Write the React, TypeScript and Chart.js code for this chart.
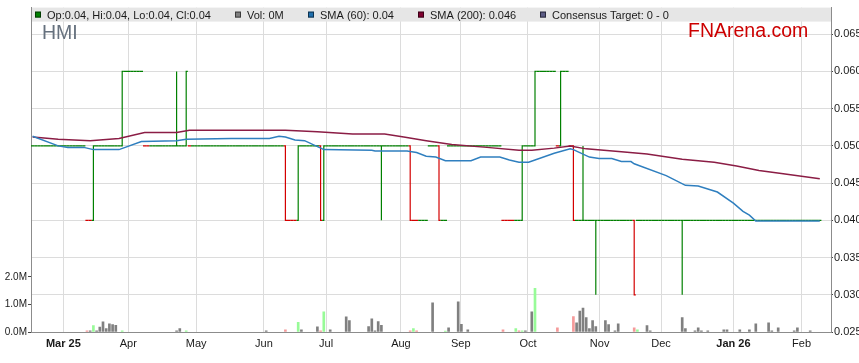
import React, { useEffect, useRef } from "react";
import { Chart, registerables } from "chart.js";

Chart.register(...registerables);

const FONT = "'Liberation Sans', Arial, Helvetica, sans-serif";

// ---- axis ticks ----
const monthTickDays = [9.6, 29.9, 51.1, 72.3, 91.7, 115.1, 133.8, 154.8, 177.2, 196.4, 219.0, 240.3];
const monthLabels = ["Mar 25", "Apr", "May", "Jun", "Jul", "Aug", "Sep", "Oct", "Nov", "Dec", "Jan 26", "Feb"];
const priceTicks = [0.025, 0.03, 0.035, 0.04, 0.045, 0.05, 0.055, 0.06, 0.065];
const volumeTicks = [0, 1, 2];
const PRICE_MIN = 0.025;
const PRICE_MAX = 0.068576;
const VOL_MAX = 11.75;

// ---- daily closes (cents), trading day index 0..246 ----
const closeCents = [
  5, 5, 5, 5, 5, 5, 5, 5, 5, 5, // 0
  5, 5, 5, 5, 5, 5, 5, 4, 4, 5, // 10
  5, 5, 5, 5, 5, 5, 5, 5, 6, 6, // 20
  6, 6, 6, 6, 6, 5, 5, 5, 5, 5, // 30
  5, 5, 5, 5, 5, 5, 5, 5, 6, 5, // 40
  5, 5, 5, 5, 5, 5, 5, 5, 5, 5, // 50
  5, 5, 5, 5, 5, 5, 5, 5, 5, 5, // 60
  5, 5, 5, 5, 5, 5, 5, 5, 5, 4, // 70
  4, 4, 4, 5, 5, 5, 5, 5, 5, 5, // 80
  4, 5, 5, 5, 5, 5, 5, 5, 5, 5, // 90
  5, 5, 5, 5, 5, 5, 5, 5, 5, 5, // 100
  5, 5, 5, 5, 5, 5, 5, 5, 4, 4, // 110
  4, 4, 4, 4, 5, 5, 5, 4, 4, 4, // 120
  5, 5, 5, 5, 5, 5, 5, 5, 5, 5, // 130
  5, 5, 5, 5, 5, 5, 5, 4, 4, 4, // 140
  4, 4, 4, 5, 5, 5, 5, 6, 6, 6, // 150
  6, 6, 6, 6, 5, 6, 6, 6, 5, 4, // 160
  4, 4, 4, 4, 4, 4, 4, 4, 4, 4, // 170
  4, 4, 4, 4, 4, 4, 4, 4, 3, 4, // 180
  4, 4, 4, 4, 4, 4, 4, 4, 4, 4, // 190
  4, 4, 4, 4, 4, 4, 4, 4, 4, 4, // 200
  4, 4, 4, 4, 4, 4, 4, 4, 4, 4, // 210
  4, 4, 4, 4, 4, 4, 4, 4, 4, 4, // 220
  4, 4, 4, 4, 4, 4, 4, 4, 4, 4, // 230
  4, 4, 4, 4, 4, 4, 4, // 240
];

// days with an intraday range (cents)
const barDays = [19, 28, 45, 48, 79, 83, 90, 91, 109, 118, 127, 153, 157, 165, 169, 172, 176, 188, 203];
const barOpen = [4, 5, 5, 5, 5, 4, 5, 4, 5, 5, 5, 4, 5, 5, 5, 4, 4, 4, 4];
const barHigh = [5, 6, 6, 6, 5, 5, 5, 5, 5, 5, 5, 5, 6, 6, 5, 5, 4, 4, 4];
const barLow = [4, 5, 5, 5, 4, 4, 4, 4, 4, 4, 4, 4, 5, 5, 4, 4, 3, 3, 3];
const redDays = [17, 18, 35, 36, 49, 79, 80, 81, 82, 90, 118, 119, 120, 127, 147, 148, 149, 150, 164, 168, 169, 188];

// volume (millions)
const volDays = [17, 18, 19, 20, 21, 22, 23, 24, 25, 26, 28, 45, 46, 48, 73, 79, 83, 84, 89, 90, 91, 93, 98, 99, 105, 106, 107, 108, 109, 118, 119, 120, 125, 129, 130, 133, 134, 136, 147, 151, 152, 153, 154, 156, 157, 164, 169, 170, 171, 172, 173, 174, 175, 176, 179, 180, 182, 183, 188, 189, 192, 193, 203, 204, 207, 208, 209, 211, 216, 217, 221, 224, 226, 230, 231, 233, 238, 239, 243];
const volMillions = [0.04, 0.04, 0.23, 0.04, 0.18, 0.37, 0.12, 0.3, 0.27, 0.24, 0.04, 0.04, 0.12, 0.04, 0.04, 0.08, 0.35, 0.08, 0.19, 0.04, 0.73, 0.08, 0.55, 0.41, 0.2, 0.48, 0.04, 0.38, 0.24, 0.04, 0.12, 0.04, 1.06, 0.03, 0.15, 1.09, 0.28, 0.08, 0.08, 0.12, 0.04, 0.04, 0.04, 0.73, 1.58, 0.15, 0.56, 0.33, 0.76, 0.87, 0.52, 0.12, 0.41, 0.2, 0.41, 0.27, 0.04, 0.3, 0.15, 0.08, 0.23, 0.04, 0.52, 0.12, 0.04, 0.15, 0.04, 0.04, 0.08, 0.08, 0.08, 0.08, 0.3, 0.33, 0.04, 0.15, 0.04, 0.15, 0.04];
const volDirs = ["d", "n", "u", "n", "n", "n", "n", "n", "n", "n", "u", "n", "n", "u", "n", "d", "u", "n", "n", "d", "u", "n", "n", "n", "n", "n", "n", "n", "n", "d", "u", "d", "n", "u", "n", "n", "n", "n", "d", "u", "d", "u", "n", "n", "u", "d", "d", "n", "n", "n", "n", "n", "n", "n", "n", "n", "n", "n", "d", "u", "n", "n", "n", "n", "n", "n", "n", "n", "n", "n", "n", "n", "n", "n", "n", "n", "n", "n", "n"];

// moving averages
const sma60Days = [0, 8, 11, 16, 19, 27, 34, 45, 48, 62, 74, 77, 79, 82, 85, 91, 106, 107, 117, 120, 123, 126, 129, 137, 140, 146, 149, 152, 155, 163, 168, 169, 174, 177, 181, 184, 187, 188, 198, 204, 208, 214, 219, 222, 224, 226, 246];
const sma60Vals = [0.0513, 0.05, 0.0498, 0.0498, 0.0495, 0.0495, 0.0506, 0.0507, 0.0509, 0.051, 0.051, 0.0513, 0.0512, 0.0508, 0.0507, 0.0495, 0.0494, 0.0493, 0.0493, 0.0491, 0.0486, 0.0485, 0.048, 0.048, 0.0485, 0.0485, 0.0481, 0.0478, 0.0478, 0.049, 0.0496, 0.0495, 0.0485, 0.0483, 0.0483, 0.0479, 0.0479, 0.0476, 0.046, 0.0447, 0.0446, 0.0438, 0.0423, 0.0412, 0.0407, 0.0399, 0.0399];
const sma200Days = [0, 8, 18, 27, 35, 45, 49, 79, 89, 100, 110, 116, 123, 131, 142, 152, 156, 163, 168, 173, 184, 192, 203, 213, 220, 227, 234, 246];
const sma200Vals = [0.0512, 0.0509, 0.0507, 0.051, 0.0518, 0.0518, 0.0521, 0.0521, 0.0519, 0.0516, 0.0516, 0.0512, 0.0507, 0.0502, 0.0498, 0.0494, 0.0494, 0.0497, 0.05, 0.0496, 0.0492, 0.0489, 0.0482, 0.0478, 0.0473, 0.0467, 0.0463, 0.0456];

// legend
const legendTexts = ["Op:0.04, Hi:0.04, Lo:0.04, Cl:0.04", "Vol: 0M", "SMA (60): 0.04", "SMA (200): 0.046", "Consensus Target: 0 - 0"];
const legendColors = ["#008000", "#808080", "#1f6fad", "#800030", "#5c5c85"];
const tickerName = "HMI";
const brandName = "FNArena.com";

const UP = "#008000";
const DOWN = "#d40000";
const VOL_COLORS: Record<string, string> = { u: "#98fb98", d: "#f59a9a", n: "#808080" };

const overlayPlugin = {
  id: "overlay",
  afterDraw(chart: any) {
    const { ctx, chartArea: a } = chart;
    ctx.save();
    ctx.fillStyle = "#e6e6e6";
    ctx.fillRect(a.left + 1, a.top, a.right - a.left - 1, 14);
    const offsets = [4, 204, 277, 387, 509];
    ctx.font = `11px ${FONT}`;
    ctx.textBaseline = "alphabetic";
    legendTexts.forEach((t, k) => {
      const x = a.left + offsets[k];
      ctx.fillStyle = legendColors[k];
      ctx.fillRect(x, a.top + 4, 6, 6);
      ctx.strokeStyle = "rgba(0,0,0,0.55)";
      ctx.lineWidth = 1;
      ctx.strokeRect(x + 0.5, a.top + 4.5, 5, 5);
      ctx.fillStyle = "#1a1a1a";
      ctx.fillText(t, x + 12, a.top + 11);
    });
    ctx.font = `19.5px ${FONT}`;
    ctx.fillStyle = "#66717e";
    ctx.fillText(tickerName, a.left + 11, 39);
    ctx.fillStyle = "#cc0000";
    ctx.fillText(brandName, 688, 37);
    ctx.restore();
  },
};

export default function App() {
  const ref = useRef<HTMLCanvasElement>(null);

  useEffect(() => {
    const canvas = ref.current;
    if (!canvas) return;
    const close = closeCents.map((c) => c / 100);
    const open = close.slice();
    const high = close.slice();
    const low = close.slice();
    barDays.forEach((d, k) => {
      open[d] = barOpen[k] / 100;
      high[d] = barHigh[k] / 100;
      low[d] = barLow[k] / 100;
    });

    // OHLC bars as one broken polyline: open tick, high-low stem, close tick per day
    const ohlcPoints: { x: number; y: number | null }[] = [];
    const ohlcColors: string[] = [];
    close.forEach((c, i) => {
      const col = redDays.includes(i) ? DOWN : UP;
      const pts = [
        { x: i - 0.5, y: open[i] },
        { x: i, y: open[i] },
        { x: i, y: high[i] },
        { x: i, y: low[i] },
        { x: i, y: c },
        { x: i + 0.5, y: c },
        { x: i + 0.5, y: null },
      ];
      pts.forEach((p) => {
        ohlcPoints.push(p);
        ohlcColors.push(col);
      });
    });

    const volData = volDays.map((d, k) => ({ x: d, y: volMillions[k] }));

    const chart = new Chart(canvas, {
      type: "bar",
      data: {
        datasets: [
          {
            type: "line",
            label: "SMA (60)",
            data: sma60Days.map((d, k) => ({ x: d, y: sma60Vals[k] })),
            borderColor: "#2f7fbf",
            borderWidth: 1.5,
            pointRadius: 0,
            tension: 0,
            yAxisID: "y",
            order: 1,
          },
          {
            type: "line",
            label: "SMA (200)",
            data: sma200Days.map((d, k) => ({ x: d, y: sma200Vals[k] })),
            borderColor: "#8b1d45",
            borderWidth: 1.5,
            pointRadius: 0,
            tension: 0,
            yAxisID: "y",
            order: 2,
          },
          {
            type: "line",
            label: "OHLC",
            data: ohlcPoints,
            borderColor: UP,
            borderWidth: 1.2,
            pointRadius: 0,
            tension: 0,
            spanGaps: false,
            borderCapStyle: "butt",
            borderJoinStyle: "miter",
            segment: {
              borderColor: (ctx: any) => ohlcColors[ctx.p0DataIndex],
            },
            yAxisID: "y",
            order: 3,
          },
          {
            type: "bar",
            label: "Vol",
            data: volData,
            backgroundColor: volDirs.map((d) => VOL_COLORS[d]),
            barThickness: 2,
            grouped: false,
            borderWidth: 0,
            yAxisID: "yv",
            order: 4,
          },
        ] as any,
      },
      options: {
        animation: false,
        responsive: false,
        maintainAspectRatio: false,
        devicePixelRatio: 1,
        layout: { padding: { top: 3, left: 0, right: 0, bottom: 0 } },
        plugins: { legend: { display: false }, tooltip: { enabled: false } },
        scales: {
          x: {
            type: "linear",
            min: -0.5,
            max: 249.5,
            offset: false,
            stacked: false,
            grid: { offset: false, color: "#dcdcdc", lineWidth: 1, drawTicks: false },
            border: { color: "#8c8c8c" },
            afterBuildTicks: (s: any) => {
              s.ticks = monthTickDays.map((v) => ({ value: v }));
            },
            afterFit: (s: any) => {
              s.height = 31;
            },
            ticks: {
              autoSkip: false,
              maxRotation: 0,
              minRotation: 0,
              padding: 5,
              color: "#1a1a1a",
              font: (c: any) => ({
                family: FONT,
                size: 11,
                weight: c.index === 0 || c.index === 10 ? "bold" : "normal",
              }),
              callback: (_v: any, i: number) => monthLabels[i],
            },
          },
          y: {
            type: "linear",
            position: "right",
            min: PRICE_MIN,
            max: PRICE_MAX,
            beginAtZero: false,
            grid: { color: "#dcdcdc", lineWidth: 1, drawTicks: true, tickLength: 2, tickColor: "#444" },
            border: { color: "#8c8c8c" },
            afterBuildTicks: (s: any) => {
              s.ticks = priceTicks.map((v) => ({ value: v }));
            },
            afterFit: (s: any) => {
              s.width = 28;
            },
            ticks: {
              padding: 1,
              color: "#1a1a1a",
              font: { family: FONT, size: 11 },
              callback: (v: any) => Number(v).toFixed(3),
            },
          },
          yv: {
            type: "linear",
            position: "left",
            min: 0,
            max: VOL_MAX,
            beginAtZero: true,
            grid: { drawOnChartArea: false, drawTicks: true, tickLength: 3, tickColor: "#444" },
            border: { color: "#8c8c8c" },
            afterBuildTicks: (s: any) => {
              s.ticks = volumeTicks.map((v) => ({ value: v }));
            },
            afterFit: (s: any) => {
              s.width = 31;
            },
            ticks: {
              padding: 1,
              color: "#1a1a1a",
              font: { family: FONT, size: 10 },
              callback: (v: any) => Number(v).toFixed(1) + "M",
            },
          },
        },
      } as any,
      plugins: [overlayPlugin],
    });

    return () => chart.destroy();
  }, []);

  return (
    <div style={{ position: "absolute", left: 0, top: 0, width: 859, height: 363, overflow: "hidden", background: "#fff" }}>
      <canvas ref={ref} width={859} height={363} style={{ display: "block", width: 859, height: 363 }} />
    </div>
  );
}
